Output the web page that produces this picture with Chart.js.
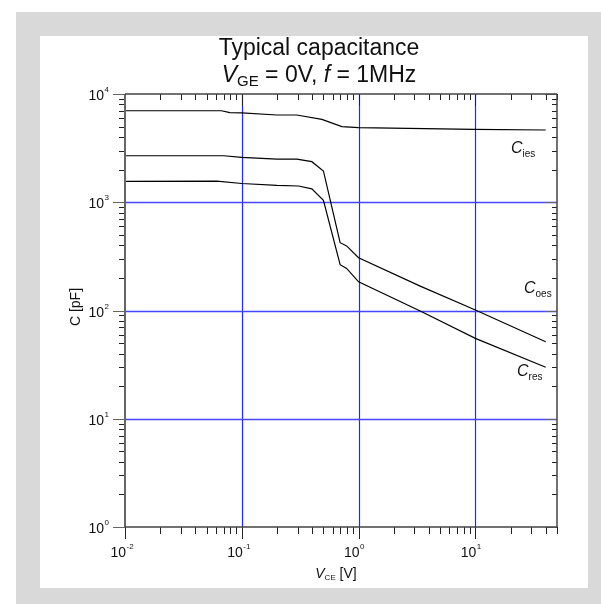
<!DOCTYPE html>
<html>
<head>
<meta charset="utf-8">
<script src="https://cdn.jsdelivr.net/npm/chart.js@4.4.1/dist/chart.umd.min.js"></script>
<style>
  html, body { margin: 0; padding: 0; background: #fff; }
  canvas { display: block; }
</style>
</head>
<body>
<canvas id="c" width="601" height="604"></canvas>
<script>
// values (V_CE in V, C in pF)
const vceIes = [0.01, 0.067, 0.079, 0.1, 0.2, 0.296, 0.485, 0.72, 1.0, 9.7, 40];
const cIes   = [7000, 7000, 6720, 6700, 6400, 6400, 5820, 4990, 4890, 4720, 4650];

const vceOes = [0.01, 0.07, 0.1, 0.2, 0.296, 0.398, 0.5, 0.695, 0.79, 1.0, 3.37, 10, 40];
const cOes   = [2690, 2690, 2600, 2500, 2500, 2370, 1945, 423, 395, 307, 168, 101, 51.5];

const vceRes = [0.01, 0.061, 0.1, 0.2, 0.306, 0.398, 0.5, 0.695, 0.79, 1.0, 3.37, 10, 40];
const cRes   = [1556, 1570, 1490, 1430, 1413, 1330, 1040, 265, 245, 184, 99, 55.3, 29.9];

const xDecades = [0.01, 0.1, 1, 10];
const xDecadeExp = ['-2', '-1', '0', '1'];
const yDecades = [1, 10, 100, 1000, 10000];
const yDecadeExp = ['0', '1', '2', '3', '4'];
const xMin = 0.01, xMax = 50, yMin = 1, yMax = 10000;

const FONT = '"Liberation Sans", Arial, sans-serif';

function toPoints(xs, ys) {
    return xs.map((x, i) => ({ x: x, y: ys[i] }));
}

// draw a run of text pieces (normal / sub / sup) starting at x
function drawRuns(ctx, runs, x, y, align) {
    let total = 0;
    runs.forEach(r => { ctx.font = r.font; total += ctx.measureText(r.t).width; });
    let cx = x;
    if (align === 'center') cx = x - total / 2;
    if (align === 'right') cx = x - total;
    ctx.textAlign = 'left';
    runs.forEach(r => {
        ctx.font = r.font;
        ctx.fillText(r.t, cx, y + (r.dy || 0));
        cx += ctx.measureText(r.t).width;
    });
}

const background = {
    id: 'background',
    beforeDraw(chart) {
        const ctx = chart.ctx;
        ctx.save();
        ctx.fillStyle = '#ffffff';
        ctx.fillRect(0, 0, chart.width, chart.height);
        ctx.fillStyle = '#d9d9d9';
        ctx.fillRect(16, 12, chart.width - 16, chart.height - 12);
        ctx.fillStyle = '#ffffff';
        ctx.fillRect(40, 36, 548, 552);
        ctx.restore();
    }
};

const gridLines = {
    id: 'gridLines',
    beforeDatasetsDraw(chart) {
        const { ctx, chartArea: a, scales: { x, y } } = chart;
        ctx.save();
        ctx.strokeStyle = '#2626ff';
        ctx.lineWidth = 1.2;
        xDecades.forEach(v => {
            if (v <= xMin || v >= xMax) return;
            const px = Math.round(x.getPixelForValue(v)) + 0.5;
            ctx.beginPath(); ctx.moveTo(px, a.top); ctx.lineTo(px, a.bottom); ctx.stroke();
        });
        ctx.strokeStyle = '#4646ff';
        ctx.lineWidth = 1.4;
        yDecades.forEach(v => {
            if (v <= yMin || v >= yMax) return;
            const py = Math.round(y.getPixelForValue(v)) + 0.5;
            ctx.beginPath(); ctx.moveTo(a.left, py); ctx.lineTo(a.right, py); ctx.stroke();
        });
        ctx.restore();
    }
};

const frame = {
    id: 'frame',
    afterDatasetsDraw(chart) {
        const { ctx, chartArea: a, scales: { x, y } } = chart;
        ctx.save();

        // minor/major tick values
        const xTicks = [];
        xDecades.forEach(d => { for (let m = 1; m <= 9; m++) { const v = d * m; if (v <= xMax + 1e-9) xTicks.push({ v: v, major: m === 1 }); } });
        const yTicks = [];
        yDecades.forEach(d => { for (let m = 1; m <= 9; m++) { const v = d * m; if (v <= yMax + 1e-9) yTicks.push({ v: v, major: m === 1 }); } });

        ctx.lineWidth = 1;
        ctx.strokeStyle = '#222';
        xTicks.forEach(t => {
            const px = Math.round(x.getPixelForValue(t.v)) + 0.5;
            const len = t.major ? 12 : 7;
            ctx.beginPath();
            ctx.moveTo(px, a.bottom); ctx.lineTo(px, a.bottom + len);       // bottom, outward
            ctx.moveTo(px, a.top); ctx.lineTo(px, a.top + (t.major ? 12 : 6)); // top, inward
            ctx.stroke();
        });
        yTicks.forEach(t => {
            const py = Math.round(y.getPixelForValue(t.v)) + 0.5;
            const len = t.major ? 12 : 6;
            ctx.strokeStyle = t.major ? '#666' : '#222';
            ctx.beginPath();
            ctx.moveTo(a.left, py); ctx.lineTo(a.left - len, py);            // left, outward
            ctx.moveTo(a.right, py); ctx.lineTo(a.right - (t.major ? 12 : 5), py); // right, inward
            ctx.stroke();
        });

        // axis frame
        ctx.strokeStyle = '#666';
        ctx.lineWidth = 2;
        ctx.beginPath(); ctx.moveTo(a.left, a.top); ctx.lineTo(a.left, a.bottom); ctx.stroke();
        ctx.strokeStyle = '#444';
        ctx.lineWidth = 1.5;
        ctx.beginPath();
        ctx.moveTo(a.left, a.bottom); ctx.lineTo(a.right, a.bottom);
        ctx.moveTo(a.right, a.bottom); ctx.lineTo(a.right, a.top);
        ctx.moveTo(a.left, a.top); ctx.lineTo(a.right, a.top);
        ctx.stroke();

        ctx.fillStyle = '#111';
        ctx.textBaseline = 'alphabetic';
        // y tick labels
        yDecades.forEach((v, i) => {
            const py = y.getPixelForValue(v);
            ctx.font = '14px ' + FONT;
            ctx.textAlign = 'right';
            ctx.fillText('10', 104, py + 6);
            ctx.font = '8px ' + FONT;
            ctx.textAlign = 'left';
            ctx.fillText(yDecadeExp[i], 104.5, py - 2);
        });
        // x tick labels
        xDecades.forEach((v, i) => {
            const px = x.getPixelForValue(v);
            ctx.font = '14px ' + FONT;
            ctx.textAlign = 'right';
            ctx.fillText('10', px + 1, 557);
            ctx.font = '8px ' + FONT;
            ctx.textAlign = 'left';
            ctx.fillText(xDecadeExp[i], px + 1.5, 549);
        });

        // axis titles
        drawRuns(ctx, [
            { t: 'V', font: 'italic 14px ' + FONT },
            { t: 'CE', font: '8px ' + FONT, dy: 2 },
            { t: ' [V]', font: '14px ' + FONT }
        ], 336, 578, 'center');

        ctx.save();
        ctx.translate(80, 307);
        ctx.rotate(-Math.PI / 2);
        ctx.font = '14px ' + FONT;
        ctx.textAlign = 'center';
        ctx.fillText('C [pF]', 0, 0);
        ctx.restore();

        // chart title
        ctx.font = '23px ' + FONT;
        ctx.textAlign = 'center';
        ctx.fillText('Typical capacitance', 319, 55);
        drawRuns(ctx, [
            { t: 'V', font: 'italic 23px ' + FONT },
            { t: 'GE', font: '15px ' + FONT, dy: 4 },
            { t: ' = 0V, ', font: '23px ' + FONT },
            { t: 'f', font: 'italic 23px ' + FONT },
            { t: ' = 1MHz', font: '23px ' + FONT }
        ], 319, 82, 'center');

        // curve labels
        const lab = (sub, lx, ly) => drawRuns(ctx, [
            { t: 'C', font: 'italic 16px ' + FONT },
            { t: sub, font: '10px ' + FONT, dy: 4 }
        ], lx, ly, 'left');
        lab('ies', 511, 153);
        lab('oes', 524, 293);
        lab('res', 517, 376);

        ctx.restore();
    }
};

const lineStyle = { borderColor: '#000', borderWidth: 1.2, pointRadius: 0, fill: false, tension: 0 };

new Chart(document.getElementById('c'), {
    type: 'line',
    data: {
        datasets: [
            Object.assign({ label: 'Cies', data: toPoints(vceIes, cIes) }, lineStyle),
            Object.assign({ label: 'Coes', data: toPoints(vceOes, cOes) }, lineStyle),
            Object.assign({ label: 'Cres', data: toPoints(vceRes, cRes) }, lineStyle)
        ]
    },
    options: {
        responsive: false,
        animation: false,
        layout: { padding: { left: 125, right: 44, top: 94, bottom: 77 } },
        scales: {
            x: { type: 'logarithmic', min: xMin, max: xMax, display: false },
            y: { type: 'logarithmic', min: yMin, max: yMax, display: false }
        },
        plugins: { legend: { display: false }, tooltip: { enabled: false } }
    },
    plugins: [background, gridLines, frame]
});
</script>
</body>
</html>
